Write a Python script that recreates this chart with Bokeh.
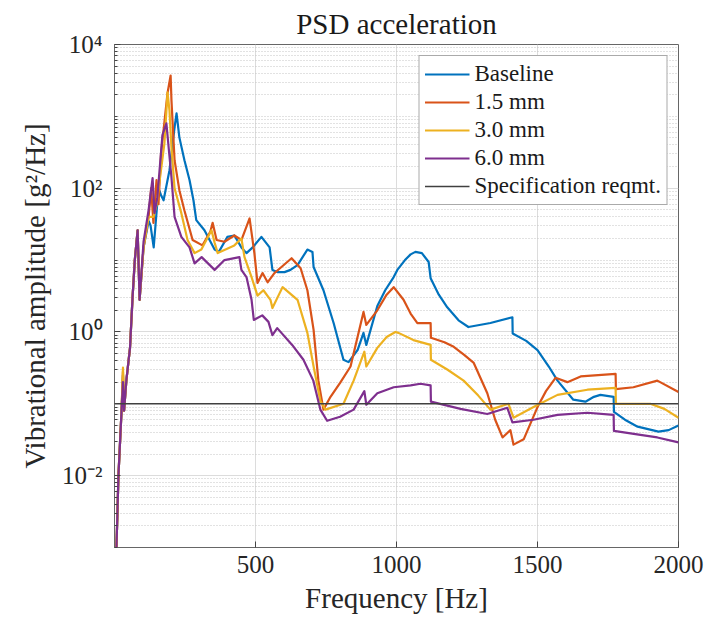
from bokeh.plotting import figure
from bokeh.models import FixedTicker, Legend, LegendItem, Range1d, CustomJSTickFormatter
from bokeh.embed import file_html
from bokeh.resources import INLINE

# ---- data ----
base_f = [7, 14, 25, 30, 34, 42, 55, 64, 72, 82, 89, 103, 121, 128, 139, 156, 165, 174, 195, 213, 220, 223, 230, 248, 266, 280, 290, 319, 355, 370, 400, 425, 450, 468, 490, 521, 550, 560, 577, 603, 624, 649, 684, 702, 706, 741, 777, 812, 830, 862, 883, 893, 932, 960, 990, 1003, 1030, 1050, 1067, 1090, 1114, 1121, 1150, 1180, 1220, 1255, 1333, 1411, 1412, 1460, 1500, 1540, 1571, 1627, 1670, 1700, 1723, 1770, 1771, 1810, 1855, 1929, 1965, 2000]
base_v = [0.001, 0.01, 0.08, 0.25, 0.08, 0.21, 0.6, 3, 10, 26, 2.8, 15, 35, 30, 15, 100, 80, 68, 178, 700, 1100, 880, 510, 245, 130, 68, 36, 26, 14, 13, 21, 22, 15, 12.5, 15, 21, 15, 7.3, 6.8, 6.8, 7.3, 8.5, 14, 13, 8, 3.8, 1.33, 0.41, 0.38, 0.56, 0.97, 0.66, 2.3, 3.8, 5.8, 7.3, 10, 12, 13, 12.5, 9.4, 5.6, 3.3, 2.2, 1.45, 1.17, 1.33, 1.6, 0.95, 0.75, 0.56, 0.33, 0.21, 0.114, 0.107, 0.125, 0.133, 0.125, 0.077, 0.06, 0.048, 0.041, 0.043, 0.05]

mm15_f = [7, 14, 25, 30, 34, 42, 55, 64, 72, 82, 89, 103, 121, 130, 138, 149, 156, 165, 188, 199, 202, 213, 230, 248, 277, 312, 340, 348, 362, 390, 425, 450, 479, 496, 507, 525, 543, 567, 592, 628, 660, 684, 706, 723, 741, 766, 800, 837, 883, 893, 932, 965, 990, 1025, 1050, 1074, 1121, 1122, 1170, 1203, 1240, 1274, 1322, 1350, 1376, 1404, 1415, 1451, 1500, 1530, 1564, 1606, 1653, 1777, 1778, 1840, 1925, 2000]
mm15_v = [0.001, 0.01, 0.08, 0.28, 0.08, 0.21, 0.6, 3, 10, 26, 2.8, 15, 40, 100, 33, 130, 60, 300, 2100, 3700, 1670, 245, 94, 49, 19, 16, 25, 33, 19, 18, 22, 19, 38, 12.5, 4.8, 6.6, 4.9, 6.6, 8, 10.6, 7.7, 3.8, 1.07, 0.21, 0.083, 0.125, 0.195, 0.33, 1.9, 1.25, 2.0, 3.3, 4.2, 2.8, 1.8, 1.33, 1.33, 0.83, 0.72, 0.62, 0.48, 0.37, 0.14, 0.06, 0.034, 0.043, 0.027, 0.032, 0.09, 0.15, 0.23, 0.2, 0.24, 0.26, 0.16, 0.17, 0.21, 0.146]

mm30_f = [7, 14, 25, 30, 34, 42, 55, 64, 72, 82, 89, 103, 121, 138, 149, 177, 188, 195, 202, 213, 237, 259, 284, 308, 344, 355, 366, 425, 450, 461, 486, 507, 528, 553, 560, 596, 649, 684, 706, 730, 748, 812, 848, 886, 893, 932, 965, 996, 1007, 1060, 1121, 1122, 1180, 1238, 1290, 1333, 1397, 1415, 1486, 1571, 1677, 1777, 1778, 1900, 1950, 2000]
mm30_v = [0.001, 0.01, 0.08, 0.32, 0.08, 0.21, 0.6, 3, 10, 26, 2.8, 15, 40, 40, 58, 420, 2150, 1200, 370, 100, 45, 19, 12.5, 14, 26, 17.5, 12.5, 16, 20, 11, 5.8, 3.2, 3.8, 2.8, 2.15, 4.2, 2.8, 0.97, 0.33, 0.11, 0.083, 0.1, 0.21, 0.53, 0.33, 0.6, 0.85, 1.0, 0.97, 0.77, 0.66, 0.41, 0.3, 0.21, 0.13, 0.083, 0.1, 0.064, 0.09, 0.133, 0.157, 0.167, 0.1, 0.1, 0.085, 0.064]

mm60_f = [7, 14, 25, 30, 34, 42, 55, 64, 72, 82, 89, 103, 121, 135, 142, 152, 170, 184, 202, 213, 237, 266, 284, 309, 355, 390, 443, 450, 468, 486, 494, 524, 546, 560, 577, 630, 670, 705, 730, 754, 800, 848, 886, 893, 932, 990, 1050, 1085, 1121, 1122, 1227, 1322, 1393, 1411, 1486, 1571, 1677, 1770, 1771, 1865, 1925, 2000]
mm60_v = [0.001, 0.01, 0.08, 0.2, 0.08, 0.21, 0.6, 3, 10, 26, 2.8, 18, 50, 138, 45, 75, 550, 800, 141, 40, 21, 15, 9, 11, 7.3, 10, 11, 7.3, 5.8, 2.8, 1.47, 1.7, 1.38, 0.9, 1.13, 0.66, 0.41, 0.21, 0.083, 0.058, 0.066, 0.083, 0.15, 0.097, 0.14, 0.17, 0.18, 0.19, 0.18, 0.107, 0.085, 0.072, 0.088, 0.055, 0.06, 0.07, 0.075, 0.07, 0.042, 0.037, 0.034, 0.029]

spec_f = [0, 2000]
spec_v = [0.1, 0.1]

series_names = ["Baseline", "1.5 mm", "3.0 mm", "6.0 mm", "Specification reqmt."]
series_colors = ["#0072BD", "#D95319", "#EDB120", "#7E2F8E", "#404040"]

x_ticks = [500, 1000, 1500, 2000]
y_ticks = [1e-2, 1, 1e2, 1e4]
y_tick_labels = ["10\u207b\u00b2", "10\u2070", "10\u00b2", "10\u2074"]

FONT = "Liberation Serif"

p = figure(width=708, height=622, y_axis_type="log",
           x_range=Range1d(0, 2000), y_range=Range1d(1e-3, 1e4),
           output_backend="svg", toolbar_location=None,
           min_border_left=114, min_border_right=30,
           min_border_top=43, min_border_bottom=75,
           title="PSD acceleration")

p.background_fill_color = "white"
p.border_fill_color = "white"
p.outline_line_color = "#666666"
p.outline_line_width = 1

p.title.text_font = FONT
p.title.text_font_size = "29px"
p.title.text_font_style = "normal"
p.title.align = "center"
p.title.text_color = "#1a1a1a"

# axes
p.xaxis.ticker = FixedTicker(ticks=x_ticks)
minor = []
for k in range(-3, 4):
    for m in range(2, 10):
        minor.append(m * 10.0 ** k)
minor += [1e-3, 1e-1, 1e1, 1e3]
p.yaxis.ticker = FixedTicker(ticks=y_ticks, minor_ticks=sorted(minor))
p.yaxis.formatter = CustomJSTickFormatter(
    args=dict(tv=y_ticks, tl=y_tick_labels),
    code="""
const i = tv.findIndex(t => Math.abs(Math.log10(t) - Math.log10(tick)) < 1e-6);
return i >= 0 ? tl[i] : "";
""")

for ax in (p.xaxis[0], p.yaxis[0]):
    ax.axis_line_color = "#666666"
    ax.major_tick_in = 6
    ax.major_tick_out = 0
    ax.minor_tick_in = 3
    ax.minor_tick_out = 0
    ax.major_tick_line_color = "#444444"
    ax.minor_tick_line_color = "#444444"
    ax.major_label_text_font = FONT
    ax.major_label_text_font_size = "25px"
    ax.major_label_text_color = "#262626"
    ax.axis_label_text_font = FONT
    ax.axis_label_text_font_size = "29px"
    ax.axis_label_text_font_style = "normal"
    ax.axis_label_text_color = "#262626"

p.xaxis.axis_label = "Frequency [Hz]"
p.yaxis.axis_label = "Vibrational amplitude [g\u00b2/Hz]"
p.xaxis.major_label_standoff = 8
p.yaxis.major_label_standoff = 12
p.xaxis.axis_label_standoff = 6
p.yaxis.axis_label_standoff = 8

# grids
p.xgrid.grid_line_color = "#dcdcdc"
p.xgrid.grid_line_width = 1
p.ygrid.grid_line_color = "#dcdcdc"
p.ygrid.grid_line_width = 1
p.ygrid.minor_grid_line_color = "#c4c4c4"
p.ygrid.minor_grid_line_dash = "1 2"
p.ygrid.minor_grid_line_width = 1

xs = [base_f, mm15_f, mm30_f, mm60_f, spec_f]
ys = [base_v, mm15_v, mm30_v, mm60_v, spec_v]
items = []
for i, (xv, yv) in enumerate(zip(xs, ys)):
    lw = 1.6 if i == 4 else 2.2
    r = p.line(xv, yv, line_color=series_colors[i], line_width=lw, line_join="round")
    items.append(LegendItem(label=series_names[i], renderers=[r]))

legend = Legend(items=items, location="top_right")
legend.label_text_font = FONT
legend.label_text_font_size = "23px"
legend.label_text_color = "#1a1a1a"
legend.glyph_width = 45
legend.glyph_height = 22
legend.label_height = 22
legend.spacing = 2
legend.padding = 5
legend.margin = 11
legend.label_standoff = 5
legend.border_line_color = "#555555"
legend.border_line_width = 1
legend.background_fill_color = "white"
legend.background_fill_alpha = 1
p.add_layout(legend, "center")

open("out.html", "w").write(file_html(p, INLINE))
